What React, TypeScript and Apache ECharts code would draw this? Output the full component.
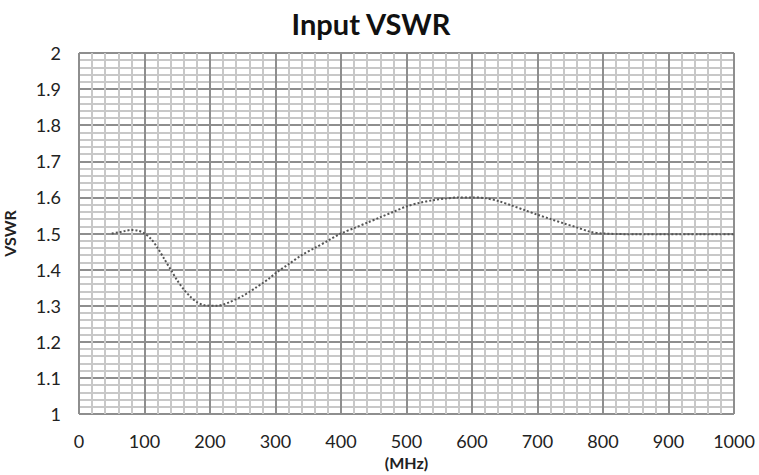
import React, { useEffect, useRef } from "react";
import * as echarts from "echarts";

const titleText = "Input VSWR";
const xAxisName = "(MHz)";
const yAxisName = "VSWR";

const freqMHz = [50, 60, 70, 80, 90, 100, 110, 120, 130, 140, 150, 160, 170, 180, 190, 200, 210, 220, 230, 240, 250, 260, 270, 280, 290, 300, 320, 340, 360, 380, 400, 420, 440, 460, 480, 500, 520, 540, 560, 580, 600, 620, 640, 660, 680, 700, 720, 740, 760, 780, 800, 850, 900, 950, 1000];
const vswr = [1.5, 1.503, 1.507, 1.51, 1.508, 1.5, 1.485, 1.46, 1.43, 1.4, 1.37, 1.345, 1.325, 1.31, 1.302, 1.3, 1.3, 1.303, 1.31, 1.318, 1.327, 1.338, 1.35, 1.362, 1.375, 1.39, 1.415, 1.44, 1.46, 1.48, 1.5, 1.515, 1.53, 1.545, 1.56, 1.575, 1.585, 1.592, 1.597, 1.6, 1.6, 1.598, 1.59, 1.578, 1.565, 1.552, 1.54, 1.528, 1.517, 1.505, 1.5, 1.498, 1.498, 1.498, 1.498];

export default function App() {
  const ref = useRef<HTMLDivElement>(null);
  useEffect(() => {
    document.body.style.margin = "0";
    if (!ref.current) return;
    const chart = echarts.init(ref.current, undefined, { renderer: "svg" });
    const labelColor = "#222";
    const majorColor = "#8e8e8e";
    const minorColor = "#c8c8c8";
    chart.setOption({
      animation: false,
      backgroundColor: "#fff",
      title: {
        text: titleText,
        left: 366,
        top: 4,
        textAlign: "center",
        textStyle: { fontFamily: "Lato", fontWeight: "bold", fontSize: 29, color: "#111" },
      },
      grid: { left: 79, right: 25, top: 53, bottom: 61, containLabel: false, outerBoundsMode: "none" },
      xAxis: {
        type: "value",
        min: 0,
        max: 1000,
        interval: 100,
        name: xAxisName,
        nameLocation: "middle",
        nameGap: 40,
        nameTextStyle: { fontFamily: "Lato", fontWeight: "bold", fontSize: 16, color: labelColor },
        axisLine: { show: false },
        axisTick: { show: false },
        axisLabel: {
          margin: 18,
          fontFamily: "Lato",
          fontSize: 18,
          color: labelColor,
          formatter: (v: number) => String(v),
        },
        splitLine: { show: true, lineStyle: { color: majorColor, width: 2 } },
        minorTick: { show: false, splitNumber: 5 },
        minorSplitLine: { show: true, lineStyle: { color: minorColor, width: 2 } },
      },
      yAxis: {
        type: "value",
        min: 1,
        max: 2,
        interval: 0.1,
        name: yAxisName,
        nameLocation: "middle",
        nameGap: 62,
        nameTextStyle: { fontFamily: "Lato", fontWeight: "bold", fontSize: 16, color: labelColor },
        axisLine: { show: false },
        axisTick: { show: false },
        axisLabel: {
          margin: 18,
          fontFamily: "Lato",
          fontSize: 18,
          color: labelColor,
          formatter: (v: number) => String(Math.round(v * 10) / 10),
        },
        splitLine: { show: true, lineStyle: { color: majorColor, width: 2 } },
        minorTick: { show: false, splitNumber: 5 },
        minorSplitLine: { show: true, lineStyle: { color: minorColor, width: 2 } },
      },
      series: [
        {
          type: "line",
          data: freqMHz.map((f, i) => [f, vswr[i]]),
          smooth: 0.3,
          showSymbol: false,
          lineStyle: { color: "#555", width: 2, type: [2, 2] },
          z: 5,
        },
      ],
    });
    return () => chart.dispose();
  }, []);
  return <div ref={ref} style={{ width: 759, height: 475 }} />;
}
